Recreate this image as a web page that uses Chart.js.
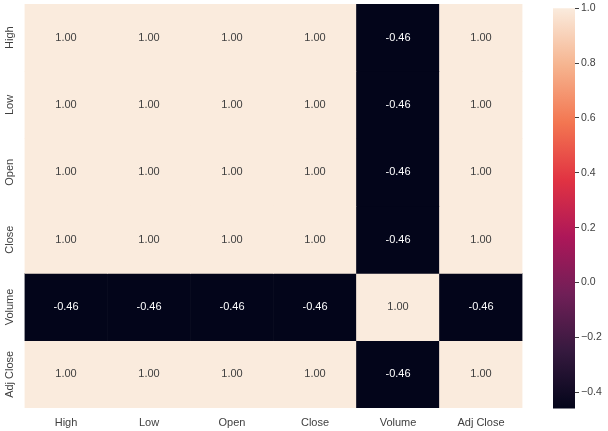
<!DOCTYPE html>
<html>
<head>
<meta charset="utf-8">
<script src="https://cdn.jsdelivr.net/npm/chart.js@4"></script>
<style>
  html, body { margin: 0; padding: 0; background: #ffffff; }
  body { width: 608px; height: 431px; position: relative; overflow: hidden; }
  #heatWrap { position: absolute; left: 0; top: 0; width: 545px; height: 431px; }
  #barWrap { position: absolute; left: 545px; top: 0; width: 63px; height: 431px; }
</style>
</head>
<body>
<div id="heatWrap"><canvas id="heat"></canvas></div>
<div id="barWrap"><canvas id="cbar"></canvas></div>
<script>
// ---- data ----
const labels = ['High', 'Low', 'Open', 'Close', 'Volume', 'Adj Close'];
const rowHigh     = [1.00, 1.00, 1.00, 1.00, -0.46, 1.00];
const rowLow      = [1.00, 1.00, 1.00, 1.00, -0.46, 1.00];
const rowOpen     = [1.00, 1.00, 1.00, 1.00, -0.46, 1.00];
const rowClose    = [1.00, 1.00, 1.00, 1.00, -0.46, 1.00];
const rowVolume   = [-0.46, -0.46, -0.46, -0.46, 1.00, -0.46];
const rowAdjClose = [1.00, 1.00, 1.00, 1.00, -0.46, 1.00];
const colorbarTicks = [-0.4, -0.2, 0.0, 0.2, 0.4, 0.6, 0.8, 1.0];

const rows = [rowHigh, rowLow, rowOpen, rowClose, rowVolume, rowAdjClose];
const vmin = Math.min(...rows.flat());
const vmax = Math.max(...rows.flat());

// rocket colormap stops
const rocket = [
  [0.0, [3, 5, 26]],
  [1/7, [53, 25, 62]],
  [2/7, [112, 31, 87]],
  [3/7, [173, 23, 89]],
  [4/7, [225, 51, 66]],
  [5/7, [243, 118, 81]],
  [6/7, [246, 180, 143]],
  [1.0, [250, 235, 221]]
];
function cmap(v) {
  let t = (v - vmin) / (vmax - vmin);
  t = Math.max(0, Math.min(1, t));
  for (let i = 1; i < rocket.length; i++) {
    if (t <= rocket[i][0]) {
      const [t0, c0] = rocket[i - 1], [t1, c1] = rocket[i];
      const f = (t - t0) / (t1 - t0);
      const c = c0.map((a, k) => Math.round(a + (c1[k] - a) * f));
      return `rgb(${c[0]},${c[1]},${c[2]})`;
    }
  }
  const c = rocket[rocket.length - 1][1];
  return `rgb(${c[0]},${c[1]},${c[2]})`;
}

const FONT = '"Liberation Sans", Arial, sans-serif';
const TEXT = '#404040';

const datasets = rows.map((row, r) => ({
  label: labels[r],
  data: row.map(() => [r, r + 1]),
  values: row,
  backgroundColor: row.map(v => cmap(v)),
  borderWidth: 0,
  barPercentage: 1.0,
  categoryPercentage: 1.0,
  grouped: false
}));

const annotate = {
  id: 'annotate',
  afterDatasetsDraw(chart) {
    const ctx = chart.ctx;
    ctx.save();
    ctx.font = '11px ' + FONT;
    ctx.textAlign = 'center';
    ctx.textBaseline = 'middle';
    chart.data.datasets.forEach((ds, di) => {
      const meta = chart.getDatasetMeta(di);
      meta.data.forEach((bar, i) => {
        const v = ds.values[i];
        const t = (v - vmin) / (vmax - vmin);
        ctx.fillStyle = t < 0.5 ? '#ffffff' : TEXT;
        const cy = (bar.y + bar.base) / 2;
        ctx.fillText(v.toFixed(2), bar.x, cy);
      });
    });
    // y tick labels, rotated
    const ys = chart.scales.y;
    ctx.fillStyle = TEXT;
    ctx.font = '11px ' + FONT;
    labels.forEach((lab, i) => {
      const py = ys.getPixelForValue(i + 0.5);
      ctx.save();
      ctx.translate(10, py);
      ctx.rotate(-Math.PI / 2);
      ctx.fillText(lab, 0, 0);
      ctx.restore();
    });
    ctx.restore();
  }
};

new Chart(document.getElementById('heat'), {
  type: 'bar',
  data: { labels: labels, datasets: datasets },
  options: {
    responsive: true,
    maintainAspectRatio: false,
    animation: false,
    layout: { padding: { top: 4, right: 22.5, left: 0, bottom: 0 } },
    plugins: { legend: { display: false }, tooltip: { enabled: false } },
    scales: {
      x: {
        type: 'category',
        grid: { display: false, drawTicks: false },
        border: { display: false },
        ticks: { color: TEXT, font: { size: 11, family: FONT }, padding: 8, maxRotation: 0 },
        afterFit(s) { s.height = 23; }
      },
      y: {
        type: 'linear',
        min: 0, max: 6,
        reverse: true,
        grid: { display: false, drawTicks: false },
        border: { display: false },
        ticks: { display: false },
        afterFit(s) { s.width = 24.5; }
      }
    }
  },
  plugins: [annotate]
});

// ---- colorbar ----
function gradientFill(context) {
  const chart = context.chart;
  const ys = chart.scales.y;
  if (!ys || !chart.chartArea) return cmap(vmax);
  const g = chart.ctx.createLinearGradient(0, ys.getPixelForValue(vmin), 0, ys.getPixelForValue(vmax));
  rocket.forEach(([t, c]) => g.addColorStop(t, `rgb(${c[0]},${c[1]},${c[2]})`));
  return g;
}

new Chart(document.getElementById('cbar'), {
  type: 'bar',
  data: {
    labels: [''],
    datasets: [{
      data: [[vmin, vmax]],
      backgroundColor: gradientFill,
      borderWidth: 0,
      barPercentage: 1.0,
      categoryPercentage: 1.0
    }]
  },
  options: {
    responsive: true,
    maintainAspectRatio: false,
    animation: false,
    layout: { padding: { top: 4.4, left: 8, right: 0, bottom: 22.4 } },
    plugins: { legend: { display: false }, tooltip: { enabled: false } },
    scales: {
      x: { display: false },
      y: {
        position: 'right',
        min: vmin, max: vmax,
        afterBuildTicks(s) { s.ticks = colorbarTicks.map(v => ({ value: v })); },
        grid: { drawOnChartArea: false, drawTicks: true, tickLength: 4, color: '#404040', tickWidth: 1 },
        border: { display: false },
        ticks: {
          color: TEXT,
          font: { size: 10.5, family: FONT },
          padding: 2,
          callback(v) { return (v < 0 ? '\u2212' : '') + Math.abs(v).toFixed(1); }
        },
        afterFit(s) { s.width = 33; }
      }
    }
  }
});
</script>
</body>
</html>
